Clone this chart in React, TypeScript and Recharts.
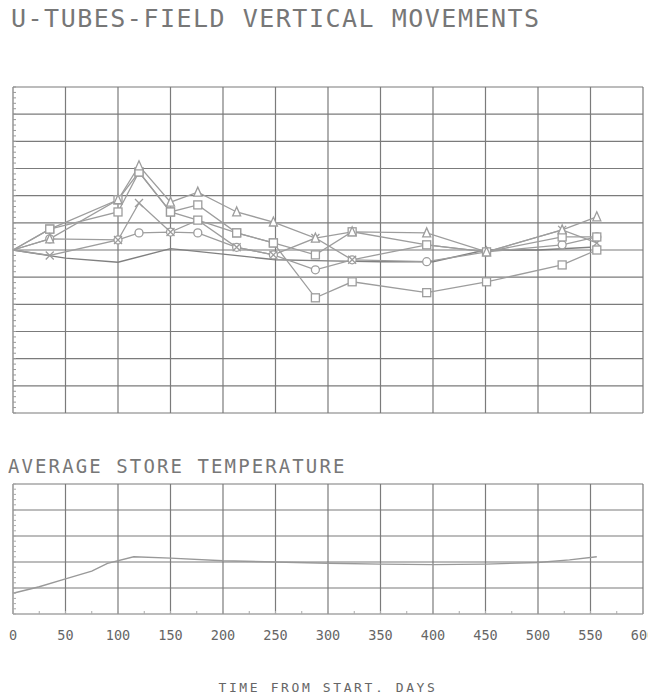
import React from "react";
import { LineChart, Line, XAxis, YAxis, CartesianGrid } from "recharts";

// measurement days of the U-tube levelling
const DAYS = [0, 35, 100, 120, 150, 176, 213, 248, 288, 323, 394, 451, 523, 556];

// vertical movement per tube group (grid units)
const TRIANGLE_V = [0, 0.41, 1.85, 3.1, 1.76, 2.13, 1.4, 1.03, 0.44, 0.67, 0.63, -0.07, 0.74, 1.22];
const SQUARE_LOW_V = [0, 0.77, 1.85, 2.87, 1.4, 1.66, 0.63, 0.26, -1.76, -1.17, -1.57, -1.17, -0.55, 0.0];
const SQUARE_MID_V = [0, 0.77, 1.4, 2.87, 1.4, 1.1, 0.63, 0.26, -0.18, 0.67, 0.19, -0.07, 0.48, 0.48];
const CIRCLE_V = [0, 0.41, 0.37, 0.63, 0.66, 0.63, 0.1, -0.18, -0.73, -0.36, -0.43, -0.07, 0.19, 0.48];
const CROSS_V = [0, -0.2, 0.37, 1.73, 0.66, 1.1, 0.1, -0.18, 0.44, -0.36, 0.19, -0.07, 0.74, 0.26];

// reference curve without markers
const PLAIN_DAYS = [0, 50, 100, 150, 200, 250, 300, 350, 400, 450, 500, 550];
const PLAIN_V = [0, -0.3, -0.45, 0.05, -0.15, -0.36, -0.4, -0.43, -0.43, 0, 0, 0.1];

// average store temperature (grid units)
const TEMP_DAYS = [0, 25, 50, 75, 90, 115, 150, 200, 250, 300, 350, 400, 450, 500, 530, 556];
const TEMP_V = [0.8, 1.05, 1.35, 1.65, 1.95, 2.2, 2.15, 2.05, 2.0, 1.95, 1.92, 1.9, 1.92, 1.98, 2.08, 2.2];

const X_TICKS = [0, 50, 100, 150, 200, 250, 300, 350, 400, 450, 500, 550, 600];
const Y_TICKS_TOP = [-6, -5, -4, -3, -2, -1, 0, 1, 2, 3, 4, 5, 6];
const Y_TICKS_BOTTOM = [0, 1, 2, 3, 4, 5];
const MINOR_Y_TOP = Array.from({ length: 61 }, (_, i) => Math.round((-6 + i * 0.2) * 10) / 10);
const MINOR_Y_BOTTOM = Array.from({ length: 26 }, (_, i) => Math.round(i * 2) / 10);
const MINOR_X = Array.from({ length: 25 }, (_, i) => i * 25);

const movementData = DAYS.map((d, i) => ({
  day: d,
  tri: TRIANGLE_V[i],
  sqLow: SQUARE_LOW_V[i],
  sqMid: SQUARE_MID_V[i],
  circ: CIRCLE_V[i],
  cross: CROSS_V[i],
}));
const plainData = PLAIN_DAYS.map((d, i) => ({ day: d, v: PLAIN_V[i] }));
const tempData = TEMP_DAYS.map((d, i) => ({ day: d, t: TEMP_V[i] }));

const INK = "#9d9d9d";
const GRID = "#7b7b7b";
const FONT = "'DejaVu Sans Mono', monospace";

const noLabel = () => <g />;

function marker(shape: string) {
  return (p: any) => {
    const { cx, cy, index } = p;
    const key = `${shape}-${index}`;
    if (cx == null || cy == null || index === 0) return <g key={key} />;
    const s = 4;
    const common = { stroke: INK, strokeWidth: 1.3, fill: "#fff" };
    if (shape === "tri")
      return <polygon key={key} points={`${cx},${cy - s - 1} ${cx - s},${cy + s} ${cx + s},${cy + s}`} {...common} />;
    if (shape === "sq")
      return <rect key={key} x={cx - s} y={cy - s} width={s * 2} height={s * 2} {...common} />;
    if (shape === "circ") return <circle key={key} cx={cx} cy={cy} r={s} {...common} />;
    return (
      <path key={key} d={`M${cx - s},${cy - s}L${cx + s},${cy + s}M${cx - s},${cy + s}L${cx + s},${cy - s}`} stroke={INK} strokeWidth={1.3} />
    );
  };
}

export default function App() {
  return (
    <div style={{ position: "relative", width: 656, height: 700, margin: -8, background: "#fff", overflow: "hidden" }}>
      <div
        style={{
          position: "absolute",
          left: 11,
          top: 6,
          fontFamily: FONT,
          fontSize: 25,
          lineHeight: "25px",
          letterSpacing: 1.5,
          color: "#777",
          whiteSpace: "nowrap",
        }}
      >
        U-TUBES-FIELD VERTICAL MOVEMENTS
      </div>

      <div style={{ position: "absolute", left: 0, top: 0 }}>
        <LineChart width={656} height={430} data={movementData} margin={{ top: 87, right: 13, bottom: 17, left: 13 }}>
          <CartesianGrid stroke={GRID} strokeWidth={1.2} />
          <XAxis type="number" dataKey="day" domain={[0, 600]} ticks={X_TICKS} hide />
          <YAxis type="number" domain={[-6, 6]} ticks={Y_TICKS_TOP} hide />
          <YAxis
            yAxisId="minor"
            type="number"
            dataKey="tri"
            domain={[-6, 6]}
            allowDataOverflow
            ticks={MINOR_Y_TOP}
            interval={0}
            mirror
            width={1}
            tick={noLabel}
            tickSize={3}
            axisLine={false}
            tickLine={{ stroke: "#999" }}
          />
          <Line data={plainData} dataKey="v" stroke="#808080" strokeWidth={1.4} dot={false} isAnimationActive={false} />
          <Line dataKey="circ" stroke={INK} strokeWidth={1.3} dot={marker("circ")} isAnimationActive={false} />
          <Line dataKey="cross" stroke={INK} strokeWidth={1.3} dot={marker("cross")} isAnimationActive={false} />
          <Line dataKey="sqMid" stroke={INK} strokeWidth={1.3} dot={marker("sq")} isAnimationActive={false} />
          <Line dataKey="sqLow" stroke={INK} strokeWidth={1.3} dot={marker("sq")} isAnimationActive={false} />
          <Line dataKey="tri" stroke={INK} strokeWidth={1.3} dot={marker("tri")} isAnimationActive={false} />
        </LineChart>
      </div>

      <div
        style={{
          position: "absolute",
          left: 8,
          top: 457,
          fontFamily: FONT,
          fontSize: 19,
          lineHeight: "19px",
          letterSpacing: 2.1,
          color: "#777",
          whiteSpace: "nowrap",
        }}
      >
        AVERAGE STORE TEMPERATURE
      </div>

      <div style={{ position: "absolute", left: 0, top: 470 }}>
        <LineChart width={656} height={200} data={tempData} margin={{ top: 14, right: 13, bottom: 0, left: 13 }}>
          <CartesianGrid stroke={GRID} strokeWidth={1.2} />
          <XAxis
            xAxisId="minor"
            type="number"
            dataKey="day"
            domain={[0, 600]}
            ticks={MINOR_X}
            interval={0}
            mirror
            height={1}
            tick={noLabel}
            tickSize={3}
            axisLine={false}
            tickLine={{ stroke: "#aaa" }}
          />
          <XAxis
            type="number"
            dataKey="day"
            domain={[0, 600]}
            ticks={X_TICKS}
            interval={0}
            height={56}
            axisLine={false}
            tickLine={false}
            tickSize={0}
            tickMargin={16}
            tick={{ fontFamily: FONT, fontSize: 13.5, fill: "#666" }}
          />
          <YAxis type="number" domain={[0, 5]} ticks={Y_TICKS_BOTTOM} hide />
          <YAxis
            yAxisId="minor"
            type="number"
            dataKey="t"
            domain={[0, 5]}
            allowDataOverflow
            ticks={MINOR_Y_BOTTOM}
            interval={0}
            mirror
            width={1}
            tick={noLabel}
            tickSize={3}
            axisLine={false}
            tickLine={{ stroke: "#aaa" }}
          />
          <Line dataKey="t" stroke="#999" strokeWidth={1.4} dot={false} isAnimationActive={false} />
        </LineChart>
      </div>

      <div
        style={{
          position: "absolute",
          left: 0,
          width: 656,
          top: 680,
          textAlign: "center",
          fontFamily: FONT,
          fontSize: 13,
          lineHeight: "15px",
          letterSpacing: 2.6,
          color: "#666",
          whiteSpace: "nowrap",
        }}
      >
        TIME FROM START, DAYS
      </div>
    </div>
  );
}
